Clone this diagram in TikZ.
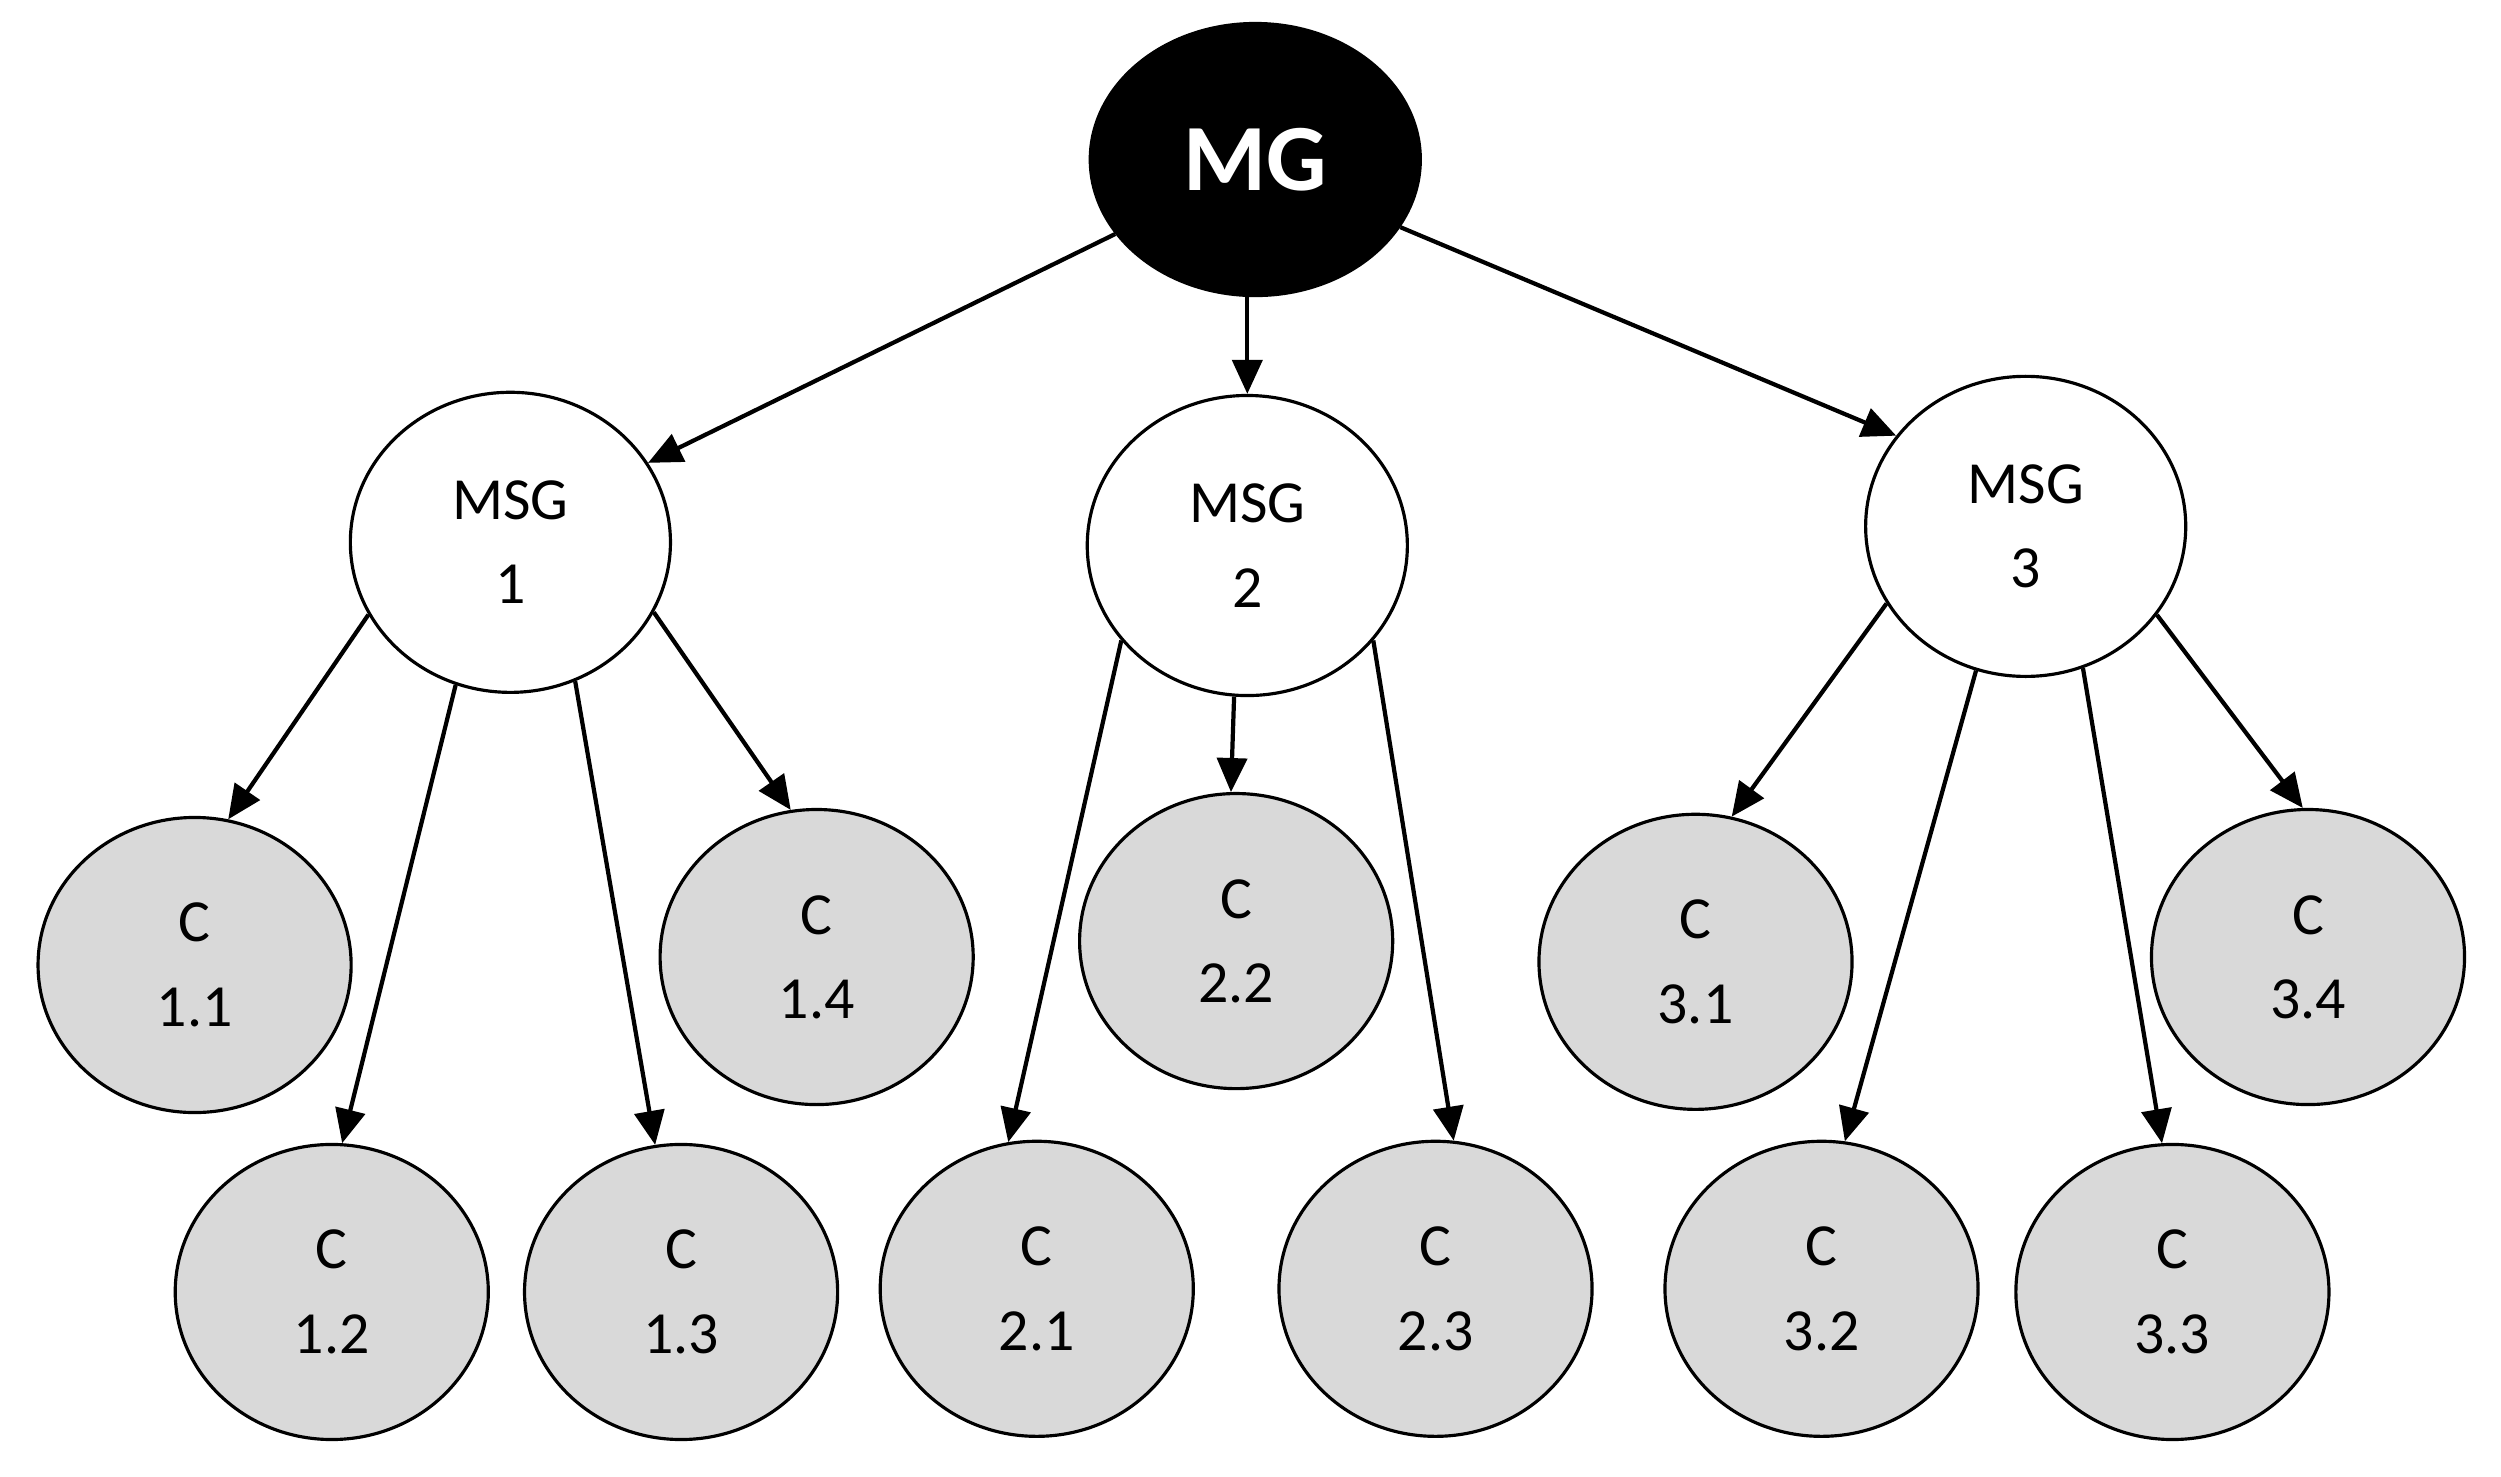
\documentclass[tikz,border=0pt]{standalone}
\usepackage{fontspec}
\setmainfont{Carlito}
\usetikzlibrary{shapes.geometric,arrows.meta}
\begin{document}
\begin{tikzpicture}[x=0.01595cm,y=-0.01595cm,
  base/.style={ellipse,draw,line width=0.9pt,align=center,inner sep=0pt},
  cn/.style={base,fill=gray!30,minimum width=3.13cm,minimum height=2.95cm,font=\fontsize{17}{24}\selectfont},
  msg/.style={base,fill=white,minimum width=3.2cm,minimum height=3.0cm,font=\fontsize{17}{24}\selectfont},
  arr/.style={line width=1.2pt,-{Triangle[length=0.34cm,width=0.3cm]}}]
\useasboundingbox (0,0) rectangle (1568,925.4);
\node[base,fill=black,text=white,minimum width=3.3cm,minimum height=2.72cm,font=\fontsize{27}{30}\selectfont\bfseries] (mg) at (787,100) {MG};
\node[msg] (m1) at (320,340) {MSG\\1};
\node[msg] (m2) at (782,342) {MSG\\2};
\node[msg] (m3) at (1270,330) {MSG\\3};
\node[cn] (c11) at (122,605) {C\\1.1};
\node[cn] (c12) at (208,810) {C\\1.2};
\node[cn] (c13) at (427,810) {C\\1.3};
\node[cn] (c14) at (512,600) {C\\1.4};
\node[cn] (c21) at (650,808) {C\\2.1};
\node[cn] (c22) at (775,590) {C\\2.2};
\node[cn] (c23) at (900,808) {C\\2.3};
\node[cn] (c31) at (1063,603) {C\\3.1};
\node[cn] (c32) at (1142,808) {C\\3.2};
\node[cn] (c33) at (1362,810) {C\\3.3};
\node[cn] (c34) at (1447,600) {C\\3.4};
\draw[arr] (mg.-152) -- (m1.30);
\draw[arr] (m2.north |- mg.south) -- (m2.north);
\draw[arr] (mg.-25) -- (m3.145);
\draw[arr] (m1.-153) -- (c11.77);
\draw[arr] (m1.-111) -- (c12.86);
\draw[arr] (m1.-65) -- (c13.100);
\draw[arr] (m1.-26) -- (c14.100);
\draw[arr] (m2.-143) -- (c21.101);
\draw[arr] (m2.-95) -- (c22.92);
\draw[arr] (m2.-37) -- (c23.83);
\draw[arr] (m3.-151) -- (c31.76);
\draw[arr] (m3.-109) -- (c32.81);
\draw[arr] (m3.-68) -- (c33.94);
\draw[arr] (m3.-34) -- (c34.92);
\end{tikzpicture}
\end{document}
